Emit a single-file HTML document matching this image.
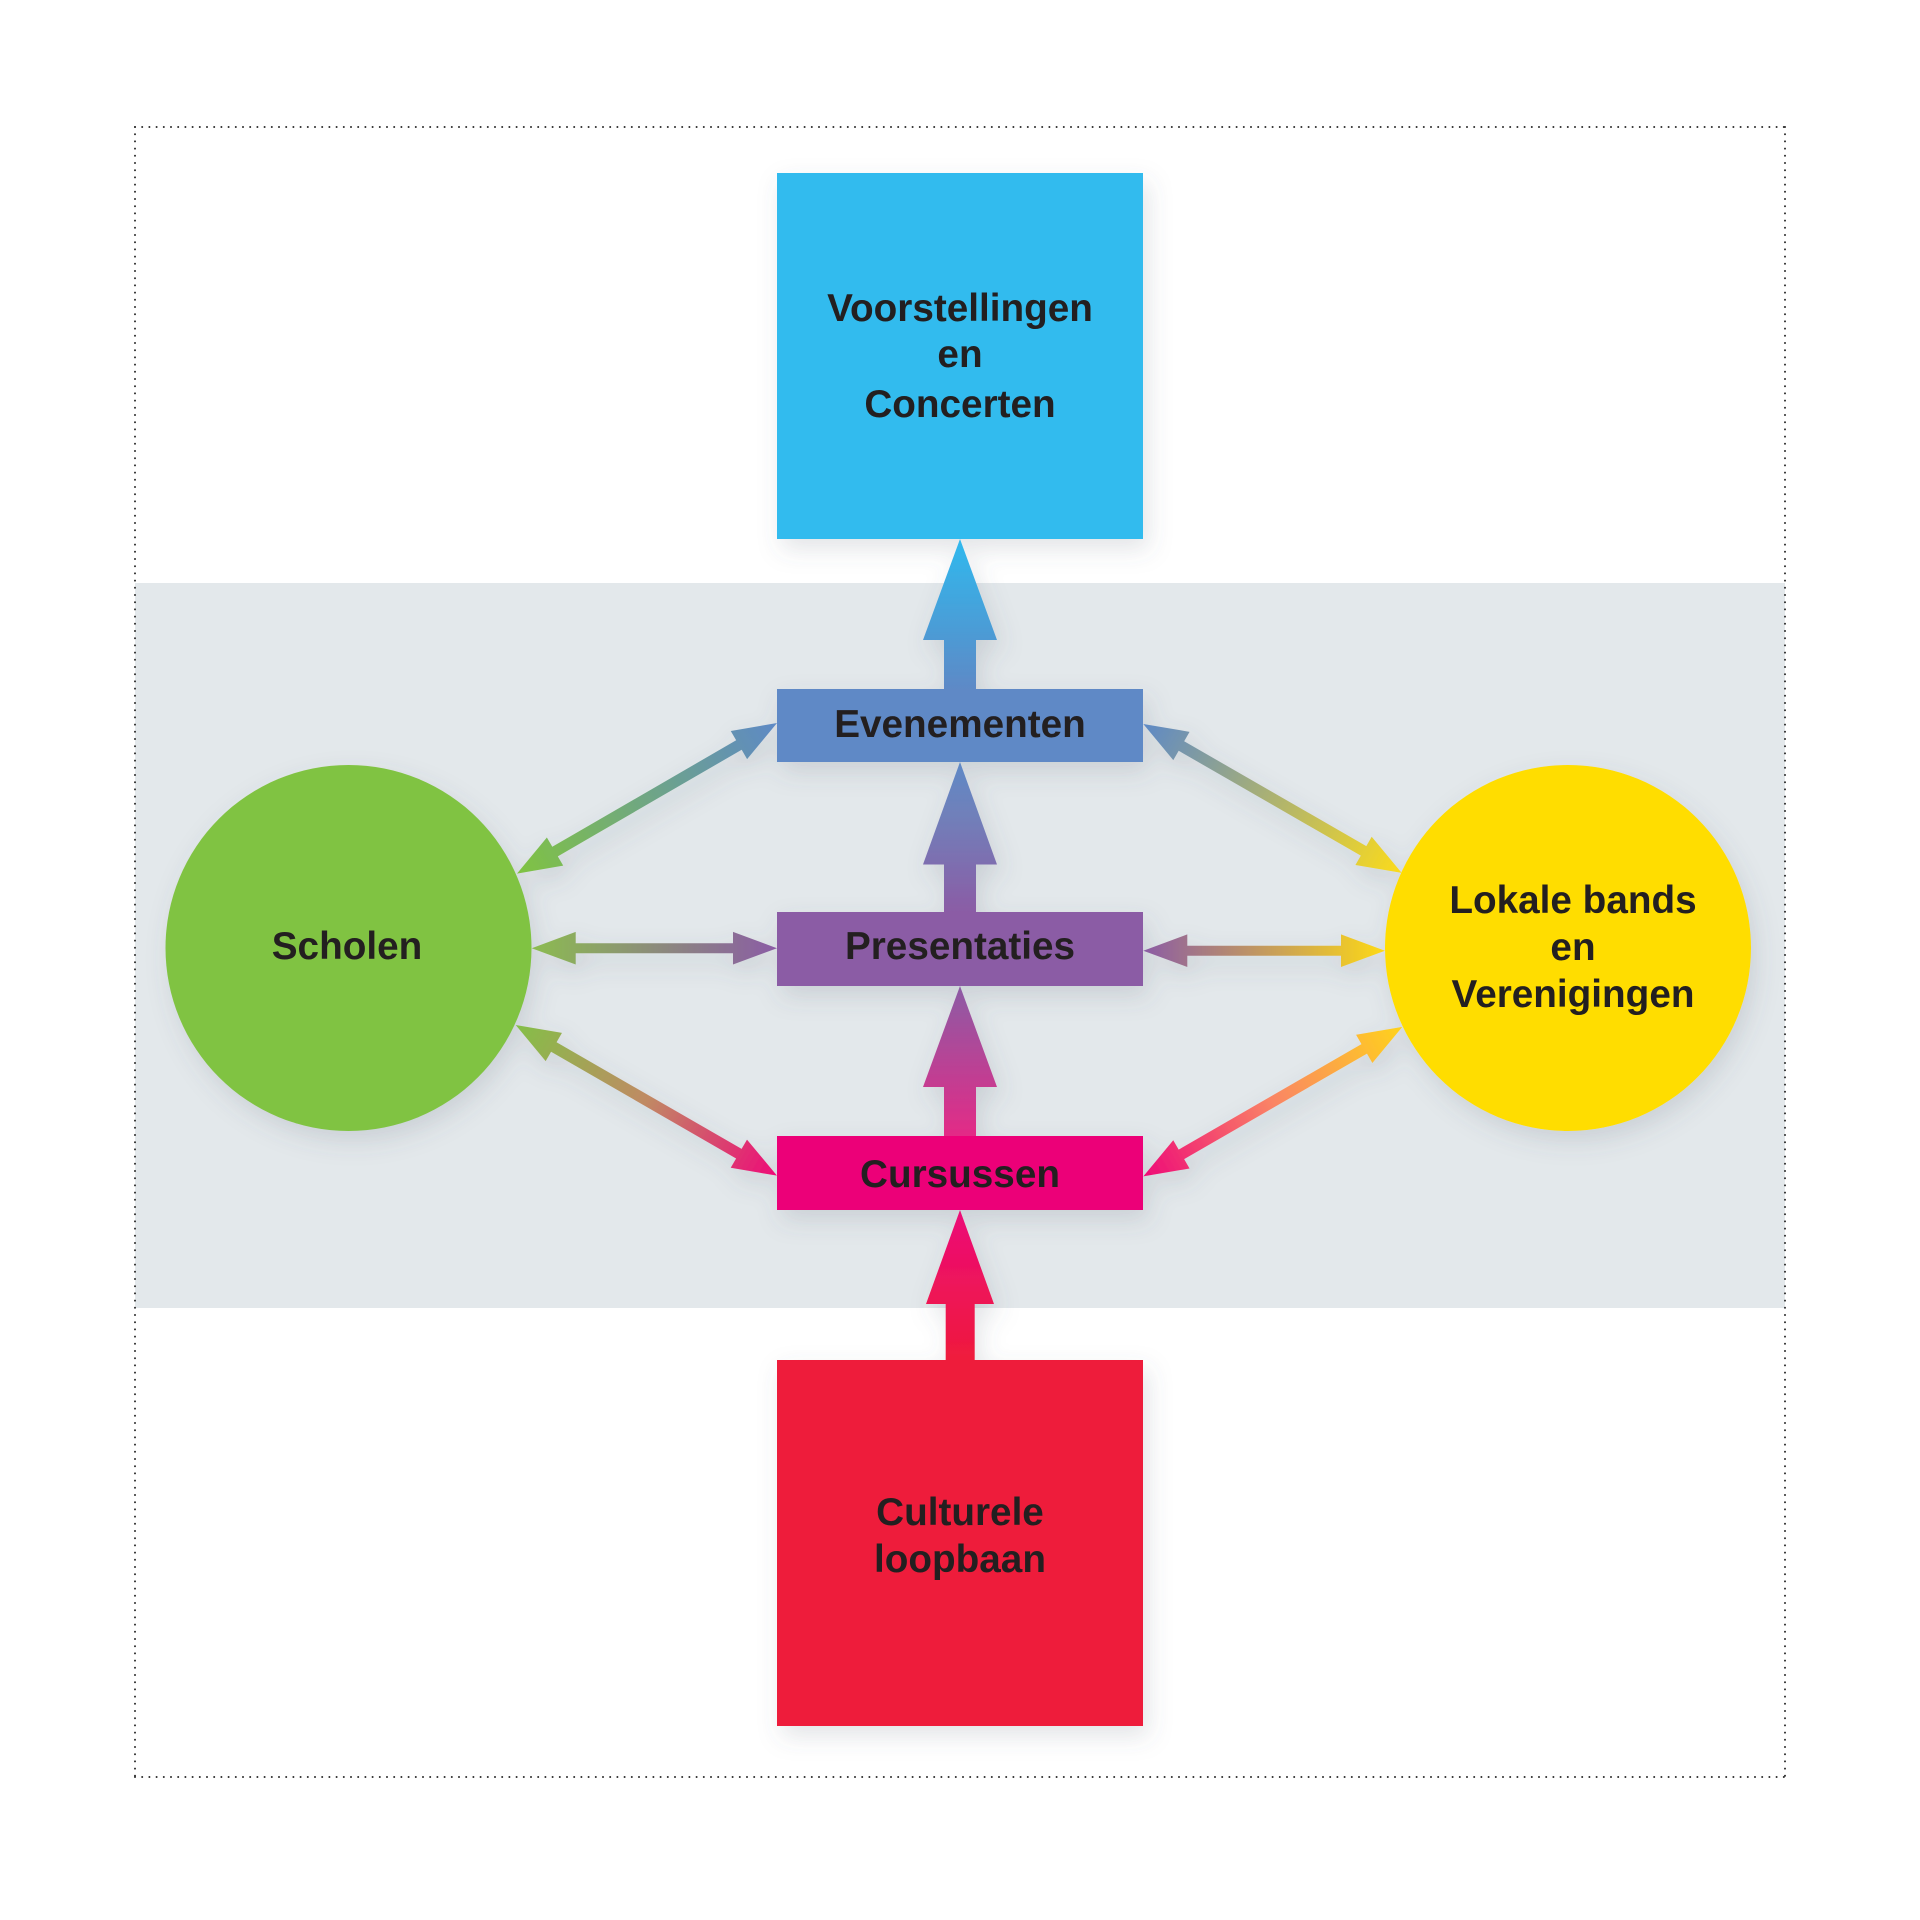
<!DOCTYPE html>
<html lang="nl">
<head>
<meta charset="utf-8">
<title>Diagram</title>
<style>
html,body{margin:0;padding:0;background:#fff;width:1920px;height:1920px;overflow:hidden}
svg{display:block}
text{font-family:"Liberation Sans",Arial,sans-serif;font-weight:700;font-size:38.7px;fill:#231f20;text-anchor:middle}
</style>
</head>
<body>
<svg width="1920" height="1920" viewBox="0 0 1920 1920" xmlns="http://www.w3.org/2000/svg">
<defs>
<filter id="sh" filterUnits="userSpaceOnUse" x="0" y="0" width="1920" height="1920">
<feDropShadow dx="5" dy="10" stdDeviation="12" flood-color="#54636f" flood-opacity="0.17"/>
</filter>
<linearGradient id="v1" x1="0" y1="0" x2="0" y2="1"><stop offset="0" stop-color="#2fb9ee"/><stop offset="1" stop-color="#5e89c6"/></linearGradient>
<linearGradient id="v2" x1="0" y1="0" x2="0" y2="1"><stop offset="0" stop-color="#5e89c6"/><stop offset="0.35" stop-color="#7080ba"/><stop offset="1" stop-color="#8b5ca5"/></linearGradient>
<linearGradient id="v3" x1="0" y1="0" x2="0" y2="1"><stop offset="0" stop-color="#8b5ca5"/><stop offset="1" stop-color="#e42a86"/></linearGradient>
<linearGradient id="v4" x1="0" y1="0" x2="0" y2="1"><stop offset="0" stop-color="#ec0b78"/><stop offset="1" stop-color="#ef1b3c"/></linearGradient>
<linearGradient id="gA"><stop offset="0" stop-color="#5e89c6"/><stop offset="1" stop-color="#80c342"/></linearGradient>
<linearGradient id="gB"><stop offset="0" stop-color="#8cbc50"/><stop offset="1" stop-color="#8b5ca5"/></linearGradient>
<linearGradient id="gC"><stop offset="0" stop-color="#84bf48"/><stop offset="0.5" stop-color="#c08a64"/><stop offset="1" stop-color="#ee0b78"/></linearGradient>
<linearGradient id="gD"><stop offset="0" stop-color="#5e89c6"/><stop offset="1" stop-color="#fbdb1c"/></linearGradient>
<linearGradient id="gE"><stop offset="0" stop-color="#8b5ca5"/><stop offset="1" stop-color="#fdd916"/></linearGradient>
<linearGradient id="gF"><stop offset="0" stop-color="#ee0b78"/><stop offset="0.5" stop-color="#fa8565"/><stop offset="1" stop-color="#ffd31c"/></linearGradient>
</defs>

<rect x="135" y="583" width="1650" height="725" fill="#e3e8eb"/>

<g fill="none" stroke="#2b2b2b" stroke-width="2" stroke-linecap="round" stroke-dasharray="0 7.2">
<line x1="135" y1="127" x2="1785" y2="127"/>
<line x1="135" y1="127" x2="135" y2="1777"/>
<line x1="1785" y1="127" x2="1785" y2="1777"/>
<line x1="135" y1="1777" x2="1785" y2="1777"/>
</g>

<g filter="url(#sh)">
<polygon fill="url(#v1)" points="960,539 997,640 976,640 976,690 944,690 944,640 923,640"/>
<polygon fill="url(#v2)" points="960,762 997,864.5 976,864.5 976,913 944,913 944,864.5 923,864.5"/>
<polygon fill="url(#v3)" points="960,986 997,1087 976,1087 976,1137 944,1137 944,1087 923,1087"/>
<polygon fill="url(#v4)" points="960,1210 994,1304 974.7,1304 974.7,1361 945.7,1361 945.7,1304 926,1304"/>

<g transform="translate(777,723) rotate(149.92)"><polygon fill="url(#gA)" points="0,0 44,-16.3 44,-5.5 256.5,-5.5 256.5,-16.3 300.5,0 256.5,16.3 256.5,5.5 44,5.5 44,16.3"/></g>
<g transform="translate(531.7,948.2)"><polygon fill="url(#gB)" points="0,0 44,-16.3 44,-5 201.3,-5 201.3,-16.3 245.3,0 201.3,16.3 201.3,5 44,5 44,16.3"/></g>
<g transform="translate(515.7,1025) rotate(29.97)"><polygon fill="url(#gC)" points="0,0 44,-16.3 44,-5.5 257.6,-5.5 257.6,-16.3 301.6,0 257.6,16.3 257.6,5.5 44,5.5 44,16.3"/></g>
<g transform="translate(1143.3,724) rotate(29.95)"><polygon fill="url(#gD)" points="0,0 44,-16.3 44,-5.5 254.2,-5.5 254.2,-16.3 298.2,0 254.2,16.3 254.2,5.5 44,5.5 44,16.3"/></g>
<g transform="translate(1143.3,950.7)"><polygon fill="url(#gE)" points="0,0 44,-16.3 44,-5 197.7,-5 197.7,-16.3 241.7,0 197.7,16.3 197.7,5 44,5 44,16.3"/></g>
<g transform="translate(1143.3,1176.4) rotate(-30)"><polygon fill="url(#gF)" points="0,0 44,-16.3 44,-5.5 255.1,-5.5 255.1,-16.3 299.1,0 255.1,16.3 255.1,5.5 44,5.5 44,16.3"/></g>

<rect x="777" y="173" width="366" height="366" fill="#33bbee"/>
<rect x="777" y="689" width="366" height="73" fill="#5e89c6"/>
<rect x="777" y="912" width="366" height="74" fill="#8b5ca5"/>
<rect x="777" y="1136" width="366" height="74" fill="#ec0678"/>
<rect x="777" y="1360" width="366" height="366" fill="#ee1b3b"/>
<circle cx="348.5" cy="948" r="183" fill="#80c342"/>
<circle cx="1568" cy="948" r="183" fill="#ffdd00"/>
</g>

<text x="960" y="321">Voorstellingen</text>
<text x="960" y="367">en</text>
<text x="960" y="417">Concerten</text>
<text x="960" y="737">Evenementen</text>
<text x="960" y="959">Presentaties</text>
<text x="960" y="1187">Cursussen</text>
<text x="960" y="1525">Culturele</text>
<text x="960" y="1572">loopbaan</text>
<text x="347" y="959">Scholen</text>
<text x="1573" y="913">Lokale bands</text>
<text x="1573" y="960">en</text>
<text x="1573" y="1007">Verenigingen</text>
</svg>
</body>
</html>
